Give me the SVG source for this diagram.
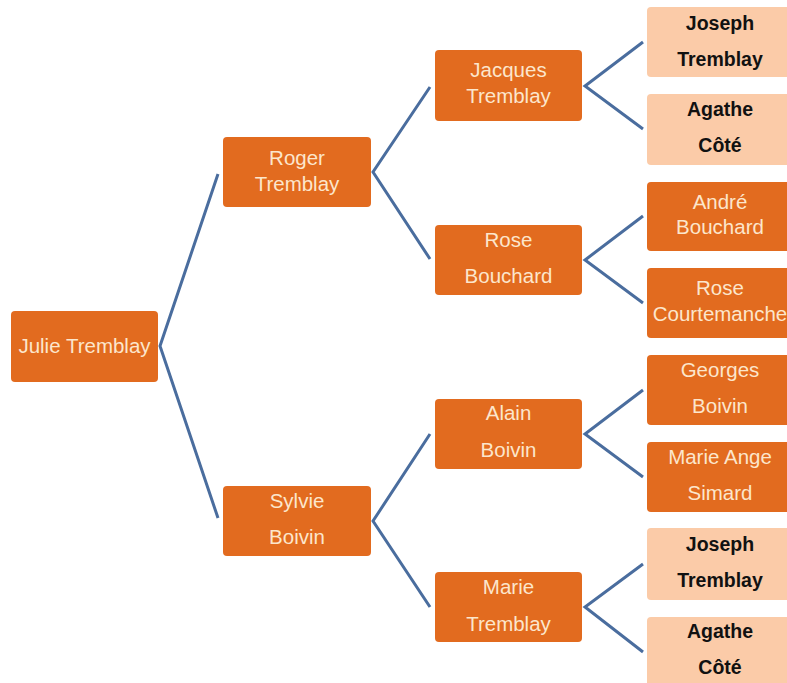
<svg xmlns="http://www.w3.org/2000/svg" width="787" height="683" viewBox="0 0 787 683">
<style>
.n{fill:#E26B1F;}
.l{fill:#FBCBA8;}
.t{font-family:"Liberation Sans",Arial,sans-serif;font-size:20.5px;fill:#FCE6CC;text-anchor:middle;}
.b{font-family:"Liberation Sans",Arial,sans-serif;font-size:19.5px;font-weight:bold;fill:#111;text-anchor:middle;}
.c{fill:none;stroke:#4A6D9E;stroke-width:3;stroke-linejoin:miter;}
</style>
<rect width="787" height="683" fill="#fff"/>
<g id="connectors">
<polyline class="c" points="218,174 160,346 218,518"/>
<polyline class="c" points="430,87 373,172 430,259"/>
<polyline class="c" points="430,434 373,521 430,607"/>
<polyline class="c" points="643,42 585,86 643,129"/>
<polyline class="c" points="643,216 585,260 643,303"/>
<polyline class="c" points="643,390 585,434 643,477"/>
<polyline class="c" points="643,564 585,607 643,652"/>
</g>
<g id="julie"><rect class="n" x="11" y="311" width="147" height="71" rx="4"/><text class="t" x="84.5" y="353">Julie Tremblay</text></g>
<g id="roger"><rect class="n" x="223" y="137" width="148" height="70" rx="4"/><text class="t" x="297" y="165">Roger</text><text class="t" x="297" y="191">Tremblay</text></g>
<g id="sylvie"><rect class="n" x="223" y="486" width="148" height="70" rx="4"/><text class="t" x="297" y="508">Sylvie</text><text class="t" x="297" y="544">Boivin</text></g>
<g id="jacques"><rect class="n" x="435" y="50" width="147" height="71" rx="4"/><text class="t" x="508.5" y="77">Jacques</text><text class="t" x="508.5" y="103">Tremblay</text></g>
<g id="rose-bouchard"><rect class="n" x="435" y="225" width="147" height="70" rx="4"/><text class="t" x="508.5" y="247">Rose</text><text class="t" x="508.5" y="283">Bouchard</text></g>
<g id="alain"><rect class="n" x="435" y="399" width="147" height="70" rx="4"/><text class="t" x="508.5" y="420">Alain</text><text class="t" x="508.5" y="457">Boivin</text></g>
<g id="marie-tremblay"><rect class="n" x="435" y="572" width="147" height="70" rx="4"/><text class="t" x="508.5" y="594">Marie</text><text class="t" x="508.5" y="631">Tremblay</text></g>
<g id="joseph1"><rect class="l" x="647" y="7" width="147" height="70" rx="4"/><text class="b" x="720" y="30">Joseph</text><text class="b" x="720" y="66">Tremblay</text></g>
<g id="agathe1"><rect class="l" x="647" y="94" width="147" height="71" rx="4"/><text class="b" x="720" y="116">Agathe</text><text class="b" x="720" y="152">Côté</text></g>
<g id="andre"><rect class="n" x="647" y="182" width="147" height="69" rx="4"/><text class="t" x="720" y="209">André</text><text class="t" x="720" y="234">Bouchard</text></g>
<g id="rose-courtemanche"><rect class="n" x="647" y="268" width="147" height="70" rx="4"/><text class="t" x="720" y="295">Rose</text><text class="t" x="720" y="321">Courtemanche</text></g>
<g id="georges"><rect class="n" x="647" y="355" width="147" height="70" rx="4"/><text class="t" x="720" y="377">Georges</text><text class="t" x="720" y="413">Boivin</text></g>
<g id="marie-ange"><rect class="n" x="647" y="442" width="147" height="70" rx="4"/><text class="t" x="720" y="464">Marie Ange</text><text class="t" x="720" y="500">Simard</text></g>
<g id="joseph2"><rect class="l" x="647" y="528" width="147" height="72" rx="4"/><text class="b" x="720" y="551">Joseph</text><text class="b" x="720" y="587">Tremblay</text></g>
<g id="agathe2"><rect class="l" x="647" y="617" width="147" height="71" rx="4"/><text class="b" x="720" y="638">Agathe</text><text class="b" x="720" y="674">Côté</text></g>
</svg>
